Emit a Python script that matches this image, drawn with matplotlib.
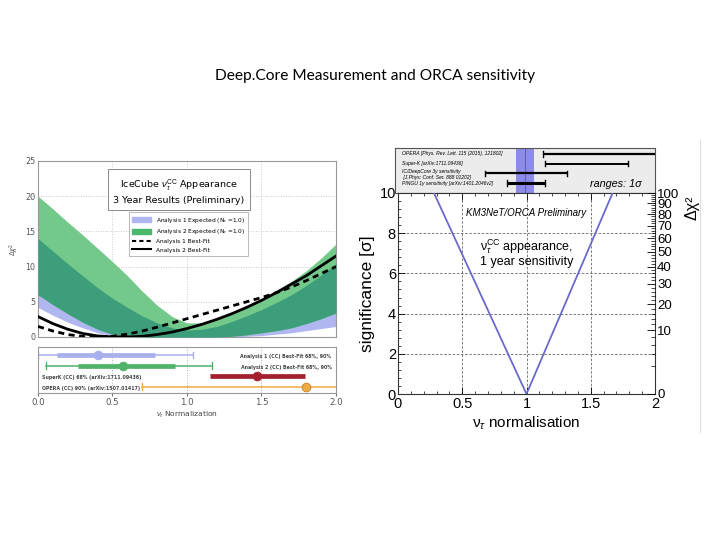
import numpy as np
import matplotlib
matplotlib.use('Agg')
import matplotlib.pyplot as plt
from matplotlib.patches import Rectangle, Patch
from matplotlib.lines import Line2D

plt.rcParams['mathtext.fontset'] = 'custom'
plt.rcParams['mathtext.rm'] = 'Liberation Sans'
plt.rcParams['mathtext.it'] = 'Liberation Sans:italic'

# ---------------- Left: IceCube DeepCore 3-year result ----------------
norm = [0.0, 0.1, 0.2, 0.3, 0.4, 0.5, 0.6, 0.7, 0.8, 0.9, 1.0,
        1.1, 1.2, 1.3, 1.4, 1.5, 1.6, 1.7, 1.8, 1.9, 2.0]
a2_exp_hi = [20.0, 18.2, 16.3, 14.5, 12.6, 10.7, 8.7, 6.5, 4.5, 2.9, 2.0,
             2.0, 2.5, 3.3, 4.3, 5.4, 6.6, 7.9, 9.4, 11.2, 13.2]
a2_exp_lo = [6.0, 4.6, 3.3, 2.1, 1.1, 0.4, 0.05, 0.0, 0.0, 0.0, 0.0,
             0.0, 0.0, 0.1, 0.3, 0.6, 0.9, 1.3, 1.9, 2.6, 3.4]
a1_exp_hi = [14.0, 12.2, 10.4, 8.7, 7.0, 5.5, 4.2, 3.0, 2.0, 1.3, 1.0,
             1.1, 1.5, 2.2, 3.0, 3.9, 4.9, 6.0, 7.3, 8.8, 10.4]
a1_exp_lo = [4.2, 3.1, 2.1, 1.3, 0.6, 0.2, 0.0, 0.0, 0.0, 0.0, 0.0,
             0.0, 0.0, 0.0, 0.1, 0.2, 0.4, 0.6, 0.9, 1.2, 1.5]
a1_bestfit = [1.5, 0.85, 0.35, 0.08, 0.0, 0.1, 0.4, 0.85, 1.4, 2.0, 2.6,
              3.2, 3.8, 4.4, 5.0, 5.6, 6.3, 7.1, 8.0, 9.0, 10.0]
a2_bestfit = [2.9, 1.9, 1.1, 0.5, 0.15, 0.02, 0.0, 0.1, 0.35, 0.7, 1.2,
              1.8, 2.5, 3.3, 4.2, 5.2, 6.3, 7.5, 8.7, 10.1, 11.5]

meas_labels = ["Analysis 1 (CC) Best-Fit 68%, 90%",
               "Analysis 2 (CC) Best-Fit 68%, 90%",
               "SuperK (CC) 68% (arXiv:1711.09436)",
               "OPERA (CC) 90% (arXiv:1507.01417)"]
meas_best = [0.40, 0.57, 1.47, 1.80]
meas_68_lo = [0.125, 0.27, 1.155, np.nan]
meas_68_hi = [0.785, 0.92, 1.79, np.nan]
meas_90_lo = [0.0, 0.054, np.nan, 0.70]
meas_90_hi = [1.04, 1.17, np.nan, 2.05]
meas_colors = ['#a9b0ee', '#4fb36a', '#a3202c', '#eeaa44']
meas_label_side = ['right', 'right', 'left', 'left']

# ---------------- Right: KM3NeT/ORCA sensitivity ----------------
orca_norm = [0.28, 1.0, 1.67]
orca_sig = [10.0, 0.0, 10.0]
orca_band = [0.93, 1.07]
ext_labels = ["OPERA [Phys. Rev. Lett. 115 (2015), 121802]",
              "Super-K [arXiv:1711.09436]",
              "IC/DeepCore 3y sensitivity\n [J.Phys: Conf. Ser. 888 01202]",
              "PINGU 1y sensitivity [arXiv:1401.2046v2]"]
ext_lo = [1.135, 1.15, 0.69, 0.86]
ext_hi = [2.05, 1.79, 1.32, 1.15]
ext_lw = [1.6, 1.4, 1.6, 2.2]

chi2_ticks = [0, 10, 20, 30, 40, 50, 60, 70, 80, 90, 100]

W, H = 720, 540
fig = plt.figure(figsize=(7.2, 5.4), dpi=100)


def ax_at(x0, y0, x1, y1):
    return fig.add_axes([x0 / W, 1 - y1 / H, (x1 - x0) / W, (y1 - y0) / H])


fig.text(375 / W, 1 - 76 / H, "Deep.Core Measurement and ORCA sensitivity",
         ha='center', va='center', fontsize=11.2, family='Lato')

# ---- left main ----
dc = 'DejaVu Sans'
axL = ax_at(38, 161, 336, 337)
x = np.array(norm)
g_hi, g_lo = np.array(a2_exp_hi), np.array(a2_exp_lo)
b_hi, b_lo = np.array(a1_exp_hi), np.array(a1_exp_lo)
lav, lgreen, teal = '#b0b6f0', '#72c98a', '#3c9e7a'
axL.fill_between(x, b_lo, b_hi, color=lav, lw=0, zorder=1)
axL.fill_between(x, g_lo, g_hi, color=lgreen, lw=0, zorder=2)
ov_lo = np.maximum(g_lo, b_lo)
ov_hi = np.minimum(g_hi, b_hi)
axL.fill_between(x, ov_lo, ov_hi, where=ov_hi > ov_lo, interpolate=True,
                 color=teal, lw=0, zorder=3)
axL.plot(x, a1_bestfit, color='black', lw=2.0, ls=(0, (2.2, 1.6)), zorder=5)
axL.plot(x, a2_bestfit, color='black', lw=2.0, zorder=5)
axL.set_xlim(0, 2)
axL.set_ylim(0, 25)
axL.set_xticks([0.5, 1.0, 1.5])
axL.set_xticklabels([])
axL.set_yticks([0, 5, 10, 15, 20, 25])
axL.tick_params(axis='both', length=0, labelsize=5.8, colors='#555555', pad=2)
for lab in axL.get_yticklabels():
    lab.set_family(dc)
axL.grid(True, ls=(0, (1, 2)), color='#bbbbbb', lw=0.6, zorder=0)
axL.set_axisbelow(True)
for s in axL.spines.values():
    s.set_color('#999999')
    s.set_linewidth(0.8)
axL.set_ylabel(r'$\Delta\chi^2$', fontsize=5, color='#444444', labelpad=3)

axL.text(0.946, 20.7, "IceCube $\\nu_\\tau^{\\rm CC}$ Appearance\n3 Year Results (Preliminary)",
         ha='center', va='center', fontsize=6.8, family=dc, linespacing=1.35,
         bbox=dict(boxstyle='square,pad=0.55', fc='white', ec='#777777', lw=0.6),
         zorder=6)
handles = [Patch(color=lav), Patch(color='#4cb86c'),
           Line2D([], [], color='black', lw=1.5, ls=(0, (2, 1.5))),
           Line2D([], [], color='black', lw=1.5)]
labels = [r"Analysis 1 Expected (N$_\tau$ =1.0)", r"Analysis 2 Expected (N$_\tau$ =1.0)",
          "Analysis 1 Best-Fit", "Analysis 2 Best-Fit"]
leg = axL.legend(handles, labels, loc='upper left', bbox_to_anchor=(0.295, 0.725),
                 fontsize=4.2, frameon=True, fancybox=False, edgecolor='#888888',
                 handlelength=3.2, handleheight=0.9, labelspacing=0.45,
                 borderpad=0.6, prop={'family': dc, 'size': 4.2})
leg.get_frame().set_linewidth(0.5)
leg.set_zorder(6)

# ---- left lower panel ----
axM = ax_at(38, 347, 336, 393)
rows = [4, 3, 2, 1]
for i, r in enumerate(rows):
    c = meas_colors[i]
    if not np.isnan(meas_90_lo[i]):
        axM.plot([meas_90_lo[i], meas_90_hi[i]], [r, r], color=c, lw=1.1, zorder=2)
        for e in (meas_90_lo[i], meas_90_hi[i]):
            axM.plot([e, e], [r - 0.3, r + 0.3], color=c, lw=1.0, zorder=2)
    if not np.isnan(meas_68_lo[i]):
        axM.plot([meas_68_lo[i], meas_68_hi[i]], [r, r], color=c, lw=3.4,
                 solid_capstyle='butt', zorder=3)
    axM.plot([meas_best[i]], [r], 'o', ms=6.3, mfc=c, mec=c if i != 3 else '#c08030',
             mew=0.6, zorder=4)
    if meas_label_side[i] == 'right':
        axM.text(1.97, r - 0.15, meas_labels[i], ha='right', va='center', fontsize=3.4,
                 fontweight='bold', color='#444444', family=dc)
    else:
        axM.text(0.03, r - 0.15, meas_labels[i], ha='left', va='center', fontsize=3.4,
                 fontweight='bold', color='#444444', family=dc)
axM.set_xlim(0, 2)
axM.set_ylim(0.4, 4.75)
axM.set_yticks([])
axM.set_xticks([0.0, 0.5, 1.0, 1.5, 2.0])
axM.set_xticklabels(['0.0', '0.5', '1.0', '1.5', '2.0'])
axM.tick_params(axis='x', length=2, width=0.6, labelsize=6.2, colors='#555555', pad=1.5)
for lab in axM.get_xticklabels():
    lab.set_family(dc)
axM.grid(True, axis='x', ls=(0, (1, 2)), color='#999999', lw=0.6, zorder=0)
for s in axM.spines.values():
    s.set_color('#999999')
    s.set_linewidth(0.8)
axM.set_xlabel(r'$\nu_\tau$ Normalization', fontsize=5.4, color='#444444',
               labelpad=2, family=dc)

# ---- right top panel ----
ls_font = 'Liberation Sans'
axT = ax_at(395, 148, 655, 193)
axT.set_facecolor('#ececec')
axT.set_xlim(0, 2)
axT.set_ylim(0, 4.6)
axT.axvspan(orca_band[0], orca_band[1], color='#8c8ce8', lw=0, zorder=1)
axT.axvline(1.0, color='#5555aa', lw=0.6, zorder=2)
ext_rows = [4.0, 3.0, 2.0, 1.0]
for i, r in enumerate(ext_rows):
    axT.plot([ext_lo[i], ext_hi[i]], [r, r], color='black', lw=ext_lw[i], zorder=3,
             solid_capstyle='butt')
    for e in (ext_lo[i], ext_hi[i]):
        axT.plot([e, e], [r - 0.28, r + 0.28], color='black', lw=1.0, zorder=3)
    axT.text(0.05, r + (0.0 if '\n' not in ext_labels[i] else -0.1), ext_labels[i],
             fontsize=3.65, style='italic', family=ls_font, ha='left', va='center',
             linespacing=1.3)
axT.text(1.5, 0.95, "ranges: 1σ", fontsize=7.8, style='italic', family=ls_font,
         ha='left', va='center')
axT.set_xticks([])
axT.set_yticks([])
for s in axT.spines.values():
    s.set_color('#555555')
    s.set_linewidth(0.8)

# ---- right main ----
axR = ax_at(398, 193, 655, 394)
axR.plot(orca_norm, orca_sig, color='#6a6acb', lw=1.3, zorder=3)
axR.set_xlim(0, 2)
axR.set_ylim(0, 10)
axR.set_xticks([0, 0.5, 1, 1.5, 2])
axR.set_xticklabels(['0', '0.5', '1', '1.5', '2'])
axR.set_yticks([0, 2, 4, 6, 8, 10])
axR.set_xticks(np.arange(0, 2.01, 0.1), minor=True)
axR.set_yticks(np.arange(0, 10.01, 0.4), minor=True)
axR.tick_params(axis='both', which='both', direction='in', top=True, labelsize=10.5,
                pad=1.5)
axR.tick_params(which='major', length=5, width=0.6)
axR.tick_params(which='minor', length=2.5, width=0.5)
axR.tick_params(axis='x', pad=2.5)
for lab in axR.get_xticklabels() + axR.get_yticklabels():
    lab.set_family(ls_font)
axR.grid(True, which='major', ls=(0, (3, 2)), color='#666666', lw=0.6)
for s in axR.spines.values():
    s.set_color('#333333')
    s.set_linewidth(0.8)
axR.set_ylabel("significance [σ]", fontsize=12.5, family=ls_font, labelpad=3)
axR.set_xlabel("ν$_\\tau$ normalisation", fontsize=11, family=ls_font, labelpad=2)
axR.text(1.0, 9.0, "KM3NeT/ORCA Preliminary", fontsize=7, style='italic',
         family=ls_font, ha='center', va='center')
axR.text(1.0, 7.35, "ν$_\\tau^{\\rm CC}$ appearance,", fontsize=9, family=ls_font,
         ha='center', va='center')
axR.text(1.0, 6.55, "1 year sensitivity", fontsize=9, family=ls_font,
         ha='center', va='center')

axC = axR.twinx()
axC.set_ylim(0, 10)
axC.set_yticks([np.sqrt(v) for v in chi2_ticks])
axC.set_yticklabels([str(v) for v in chi2_ticks])
minor_vals = [v for v in range(2, 100, 2) if v % 10 != 0]
axC.set_yticks([np.sqrt(v) for v in minor_vals], minor=True)
axC.tick_params(axis='y', which='both', direction='in', labelsize=9.5, pad=1.5)
axC.tick_params(which='major', length=6, width=0.6)
axC.tick_params(which='minor', length=3, width=0.5)
for lab in axC.get_yticklabels():
    lab.set_family(ls_font)
for s in axC.spines.values():
    s.set_visible(False)
fig.text(692 / W, 1 - 208 / H, "Δχ²", rotation=90, fontsize=11.5, family=ls_font,
         ha='center', va='center')

# slide-image border
fig.add_artist(Line2D([700 / W, 700 / W], [1 - 140 / H, 1 - 432 / H], color='#dddddd',
                      lw=0.8))

fig.savefig('out.png', dpi=100)
